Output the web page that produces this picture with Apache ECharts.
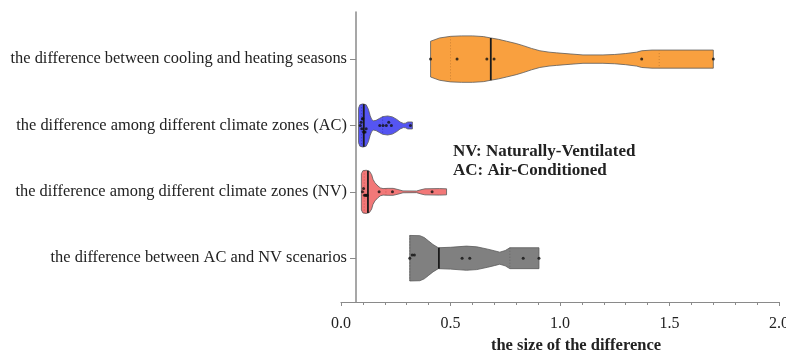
<!DOCTYPE html>
<html>
<head>
<meta charset="utf-8">
<script src="https://cdn.jsdelivr.net/npm/echarts@6/dist/echarts.min.js"></script>
<style>
  html, body { margin: 0; padding: 0; background: #fff; }
  #main { width: 786px; height: 352px; }
</style>
</head>
<body>
<div id="main"></div>
<script>
// categories, bottom to top (y positions 1..4)
const categories = [
  'the difference between AC and NV scenarios',
  'the difference among different climate zones (NV)',
  'the difference among different climate zones (AC)',
  'the difference between cooling and heating seasons'
];
const xTicks = [0, 0.5, 1.0, 1.5, 2.0];

// AC vs NV (grey)
const acnvProfileX = [0.314, 0.36, 0.38, 0.40, 0.42, 0.444, 0.50, 0.573, 0.62, 0.67, 0.70, 0.725, 0.75, 0.771, 0.904];
const acnvProfileW = [0.98, 0.97, 0.89, 0.74, 0.59, 0.45, 0.47, 0.52, 0.49, 0.39, 0.32, 0.26, 0.33, 0.45, 0.45];
const acnvPoints = [0.314, 0.325, 0.335, 0.553, 0.588, 0.832, 0.904];
const acnvStats = [0.314, 0.447, 0.771]; // q1, median, q3

// climate zones NV (red)
const nvProfileX = [0.093, 0.10, 0.115, 0.13, 0.14, 0.146, 0.155, 0.169, 0.18, 0.192, 0.215, 0.238, 0.26, 0.283, 0.345, 0.365, 0.383, 0.45, 0.482];
const nvProfileW = [0.78, 0.91, 0.93, 0.89, 0.74, 0.54, 0.39, 0.25, 0.17, 0.14, 0.15, 0.15, 0.10, 0.04, 0.035, 0.09, 0.13, 0.14, 0.13];
const nvPoints = [0.098, 0.103, 0.107, 0.112, 0.116, 0.12, 0.174, 0.235, 0.416];
const nvStats = [0.106, 0.123, 0.205];

// climate zones AC (blue)
const acProfileX = [0.080, 0.086, 0.10, 0.115, 0.125, 0.133, 0.140, 0.148, 0.16, 0.175, 0.19, 0.213, 0.235, 0.255, 0.27, 0.285, 0.295, 0.305, 0.326];
const acProfileW = [0.74, 0.89, 0.93, 0.89, 0.70, 0.43, 0.26, 0.20, 0.22, 0.30, 0.38, 0.41, 0.37, 0.26, 0.15, 0.09, 0.10, 0.15, 0.15];
const acPoints = [0.088, 0.092, 0.095, 0.098, 0.10, 0.103, 0.106, 0.11, 0.115, 0.177, 0.192, 0.207, 0.218, 0.23, 0.317];
const acStats = [0.094, 0.104, 0.19];

// cooling vs heating seasons (orange)
const seasonProfileX = [0.409, 0.45, 0.50, 0.55, 0.60, 0.65, 0.684, 0.72, 0.756, 0.80, 0.832, 0.87, 0.908, 0.95, 0.984, 1.05, 1.105, 1.196, 1.25, 1.30, 1.35, 1.373, 1.42, 1.70];
const seasonProfileW = [0.77, 0.91, 0.98, 1.00, 1.00, 0.97, 0.91, 0.85, 0.77, 0.67, 0.58, 0.46, 0.36, 0.30, 0.27, 0.22, 0.18, 0.18, 0.20, 0.24, 0.30, 0.36, 0.39, 0.39];
const seasonPoints = [0.409, 0.530, 0.666, 0.699, 1.373, 1.700];
const seasonStats = [0.500, 0.684, 1.453];

const WIDTH = 0.35; // max half width in y units
const FONT = '"Liberation Serif", "Times New Roman", serif';

const groups = [
  { pos: 1, px: acnvProfileX, w: acnvProfileW, pts: acnvPoints, st: acnvStats, color: '#808080', q: '#5e5e5e' },
  { pos: 2, px: nvProfileX, w: nvProfileW, pts: nvPoints, st: nvStats, color: '#f27878', q: '#b85050' },
  { pos: 3, px: acProfileX, w: acProfileW, pts: acPoints, st: acStats, color: '#5555f2', q: '#3030b0' },
  { pos: 4, px: seasonProfileX, w: seasonProfileW, pts: seasonPoints, st: seasonStats, color: '#f9a03f', q: '#c07a30' }
];

function halfAt(g, x) {
  for (let i = 0; i < g.px.length - 1; i++) {
    if (x >= g.px[i] && x <= g.px[i + 1]) {
      const t = (x - g.px[i]) / (g.px[i + 1] - g.px[i]);
      return g.w[i] + t * (g.w[i + 1] - g.w[i]);
    }
  }
  return x < g.px[0] ? g.w[0] : g.w[g.w.length - 1];
}

// dots, nudged apart a little when they sit on top of each other
const dotData = [];
groups.forEach(g => {
  const placed = [];
  g.pts.forEach(x => {
    const k = placed.filter(p => Math.abs(p - x) < 0.012).length;
    placed.push(x);
    const off = k === 0 ? 0 : (k % 2 ? 1 : -1) * Math.ceil(k / 2) * 0.05;
    dotData.push([x, g.pos + off]);
  });
});

function renderViolin(params, api) {
  const g = groups[params.dataIndex];
  const top = g.px.map((x, i) => api.coord([x, g.pos + g.w[i] * WIDTH]));
  const bot = g.px.map((x, i) => api.coord([x, g.pos - g.w[i] * WIDTH])).reverse();
  const children = [{
    type: 'polygon',
    shape: { points: top.concat(bot) },
    style: { fill: g.color, stroke: '#5a5a5a', lineWidth: 0.8 }
  }];
  [g.st[0], g.st[2]].forEach(q => {
    const h = halfAt(g, q) * WIDTH;
    const a = api.coord([q, g.pos + h]);
    const b = api.coord([q, g.pos - h]);
    children.push({
      type: 'line',
      shape: { x1: a[0], y1: a[1], x2: b[0], y2: b[1] },
      style: { stroke: g.q, lineWidth: 0.8, lineDash: [1, 2] }
    });
  });
  const hm = halfAt(g, g.st[1]) * WIDTH;
  const m1 = api.coord([g.st[1], g.pos + hm]);
  const m2 = api.coord([g.st[1], g.pos - hm]);
  children.push({
    type: 'line',
    shape: { x1: m1[0], y1: m1[1], x2: m2[0], y2: m2[1] },
    style: { stroke: '#1a1a1a', lineWidth: 1.8 }
  });
  return { type: 'group', children: children };
}

const myChart = echarts.init(document.getElementById('main'));
const option = {
  animation: false,
  backgroundColor: '#fff',
  grid: { left: 341, right: 7, top: 12, bottom: 50, outerBoundsMode: 'none' },
  xAxis: {
    type: 'value', min: 0, max: 2, interval: 0.5,
    axisLine: { onZero: false, lineStyle: { color: '#8a8a8a', width: 1.2 } },
    axisTick: { length: 4, lineStyle: { color: '#8a8a8a' } },
    minorTick: { show: true, splitNumber: 5, length: 3, lineStyle: { color: '#8a8a8a' } },
    splitLine: { show: false },
    axisLabel: { margin: 14, fontFamily: FONT, fontSize: 16, color: '#222', formatter: v => v.toFixed(1) },
    name: 'the size of the difference',
    nameLocation: 'middle',
    nameGap: 33,
    nameTextStyle: { fontFamily: FONT, fontSize: 16.5, fontWeight: 'bold', color: '#222', padding: [0, 0, 0, 32] }
  },
  yAxis: {
    type: 'value', min: 0.34, max: 4.71,
    offset: -15,
    axisLine: { show: true, onZero: false, lineStyle: { color: '#8a8a8a', width: 1.5 } },
    axisTick: { show: true, customValues: [1, 2, 3, 4], length: 6, lineStyle: { color: '#8a8a8a' } },
    splitLine: { show: false },
    axisLabel: {
      customValues: [1, 2, 3, 4], margin: 9,
      fontFamily: FONT, fontSize: 16.4, color: '#222',
      formatter: v => categories[Math.round(v) - 1]
    }
  },
  graphic: [{
    type: 'text', left: 453, top: 142,
    style: {
      text: 'NV: Naturally-Ventilated\nAC: Air-Conditioned',
      font: 'bold 17px ' + FONT, fill: '#222', lineHeight: 19
    }
  }],
  series: [
    {
      type: 'custom',
      renderItem: renderViolin,
      data: groups.map(g => [g.px[0], g.pos]),
      z: 2
    },
    {
      type: 'scatter',
      data: dotData,
      symbolSize: 3,
      itemStyle: { color: '#111' },
      z: 3
    }
  ]
};
myChart.setOption(option);
</script>
</body>
</html>
